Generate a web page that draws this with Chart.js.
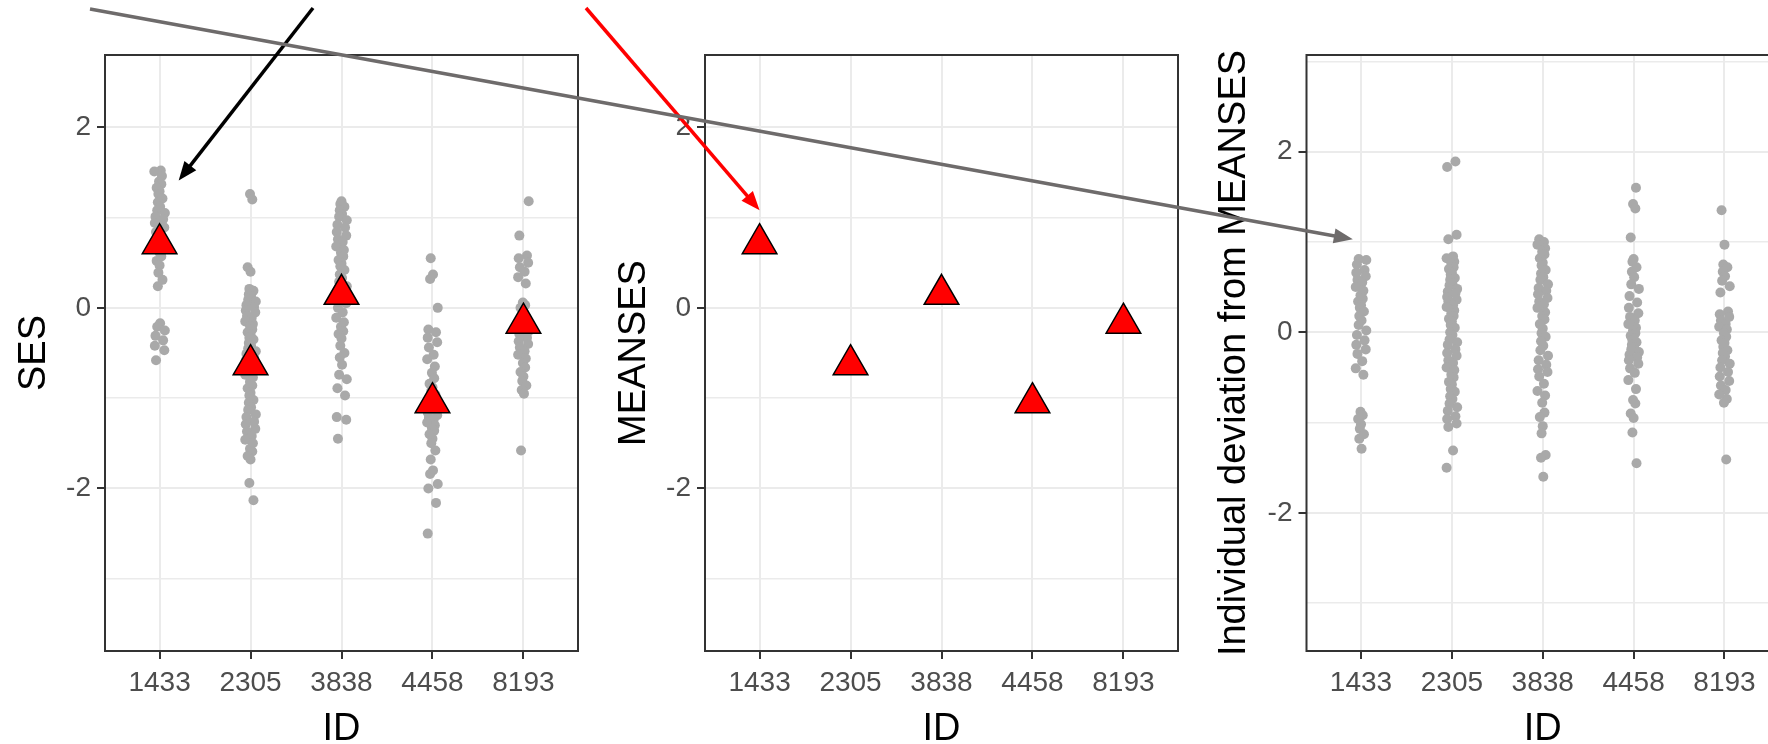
<!DOCTYPE html>
<html>
<head>
<meta charset="utf-8">
<script src="https://cdn.jsdelivr.net/npm/chart.js@4"></script>
<style>
  html, body { margin: 0; padding: 0; background: #fff; overflow: hidden; width: 1768px; height: 744px; }
  .panel { position: absolute; top: 0; width: 600px; height: 744px; }
  #overlay { position: absolute; left: 0; top: 0; pointer-events: none; }
</style>
</head>
<body>
<div class="panel" style="left:0px"><canvas id="c1" width="600" height="744"></canvas></div>
<div class="panel" style="left:600px"><canvas id="c2" width="600" height="744"></canvas></div>
<div class="panel" style="left:1200px"><canvas id="c3" width="600" height="744"></canvas></div>
<canvas id="overlay" width="1768" height="744"></canvas>
<script>
// School IDs (x categories)
const schoolIds = ['1433', '2305', '3838', '4458', '8193'];

// Student SES values per school
const ses1433 = [1.52, 1.51, 1.46, 1.40, 1.37, 1.33, 1.29, 1.26, 1.21, 1.17, 1.12, 1.08, 1.05, 1.01, 0.98, 0.94,
  0.89, 0.84, 0.79, 0.73, 0.68, 0.62, 0.57, 0.52, 0.47, 0.39, 0.31, 0.24, -0.17, -0.21, -0.25, -0.31, -0.36,
  -0.42, -0.47, -0.58];
const ses2305 = [1.26, 1.20, 0.45, 0.40, 0.21, 0.19, 0.15, 0.13, 0.09, 0.07, 0.03, 0.01, -0.03, -0.05, -0.09,
  -0.11, -0.15, -0.18, -0.20, -0.24, -0.27, -0.29, -0.33, -0.35, -0.39, -0.42, -0.45, -0.48, -0.51, -0.55,
  -0.58, -0.63, -0.66, -0.71, -0.74, -0.77, -0.82, -0.86, -0.89, -0.94, -0.97, -1.02, -1.05, -1.10, -1.13,
  -1.18, -1.21, -1.26, -1.29, -1.34, -1.37, -1.42, -1.46, -1.50, -1.56, -1.59, -1.64, -1.68, -1.94, -2.13];
const ses3838 = [1.18, 1.15, 1.12, 1.08, 1.04, 1.01, 0.97, 0.92, 0.89, 0.84, 0.80, 0.76, 0.73, 0.68, 0.64,
  0.61, 0.57, 0.53, 0.49, 0.46, 0.42, 0.37, 0.33, 0.29, 0.24, 0.19, 0.14, 0.10, 0.05, 0.00, -0.05, -0.11,
  -0.16, -0.21, -0.26, -0.29, -0.34, -0.42, -0.50, -0.55, -0.63, -0.74, -0.79, -0.89, -0.97, -1.21, -1.24, -1.45];
const ses4458 = [0.55, 0.37, 0.32, 0.00, -0.24, -0.27, -0.33, -0.38, -0.44, -0.52, -0.57, -0.65, -0.72, -0.78,
  -0.84, -0.88, -0.92, -0.96, -1.00, -1.03, -1.06, -1.09, -1.12, -1.14, -1.16, -1.19, -1.22, -1.24, -1.27,
  -1.30, -1.33, -1.36, -1.40, -1.45, -1.50, -1.58, -1.68, -1.80, -1.84, -1.95, -2.00, -2.16, -2.50];
const ses8193 = [1.18, 0.80, 0.58, 0.55, 0.50, 0.45, 0.40, 0.34, 0.27, 0.06, 0.03, 0.00, -0.04, -0.08, -0.11,
  -0.14, -0.18, -0.22, -0.26, -0.29, -0.33, -0.37, -0.40, -0.44, -0.48, -0.52, -0.56, -0.61, -0.66, -0.71,
  -0.76, -0.81, -0.86, -0.91, -0.95, -1.58];

// School mean SES (MEANSES)
const meanSES = [0.71, -0.63, 0.15, -1.05, -0.17];

// Y tick values (labels on even values, minor grid on odd)
const yTicksLevel = [-3, -2, -1, 0, 1, 2];
const yTicksDeviation = [-3, -2, -1, 0, 1, 2, 3];

const FONT = "'Liberation Sans', Arial, sans-serif";
Chart.defaults.font.family = FONT;

// small horizontal jitter so overlapping students stay visible (in category units)
const jitterPattern = [0.013, -0.045, 0.032, -0.006, 0.052, -0.026, 0.0, -0.058, 0.039, -0.019, 0.019, -0.039, 0.058, -0.013, 0.026, -0.052, 0.006, -0.032];
const jitter = (i, phase) => jitterPattern[(i * 7 + phase) % jitterPattern.length];

const sesGroups = [ses1433, ses2305, ses3838, ses4458, ses8193];
const sesPoints = sesGroups.flatMap((g, s) => g.map((v, i) => ({ x: s + jitter(i, s * 3), y: v })));
const devPoints = sesGroups.flatMap((g, s) => g.map((v, i) => ({ x: s + jitter(i, s * 3 + 5), y: v - meanSES[s] })));
const meanPoints = meanSES.map((v, s) => ({ x: s, y: v }));

const dotDataset = (data) => ({
  data, order: 2, showLine: false,
  pointRadius: 5, pointHoverRadius: 5,
  pointBackgroundColor: '#a9a9a9', pointBorderWidth: 0, pointBorderColor: '#a9a9a9'
});
const meanDataset = () => ({
  data: meanPoints, order: 1, showLine: false,
  pointStyle: 'triangle', pointRadius: 20, pointHoverRadius: 20,
  pointBackgroundColor: '#ff0000', pointBorderColor: '#000000', pointBorderWidth: 1.5
});

const panelBorder = {
  id: 'panelBorder',
  afterDraw(chart) {
    const { ctx, chartArea: a } = chart;
    ctx.save();
    ctx.strokeStyle = '#333333';
    ctx.lineWidth = 2;
    ctx.strokeRect(a.left, a.top, a.right - a.left, a.bottom - a.top);
    ctx.restore();
  }
};

const isMinor = (v) => Math.abs(v % 2) === 1;

function makePanel(canvasId, yTitle, datasets, yMin, yMax, yTicks, axisWidth, rightPad, titlePad) {
  return new Chart(document.getElementById(canvasId), {
    type: 'scatter',
    data: { datasets },
    plugins: [panelBorder],
    options: {
      responsive: false,
      animation: false,
      devicePixelRatio: 1,
      layout: { padding: { left: 0, top: 55, right: rightPad, bottom: 0 } },
      plugins: { legend: { display: false }, tooltip: { enabled: false } },
      scales: {
        x: {
          type: 'linear', min: -0.6, max: 4.6,
          afterBuildTicks: (s) => { s.ticks = schoolIds.map((_, i) => ({ value: i })); },
          afterFit: (s) => { s.height = 93; },
          border: { display: false },
          grid: { color: '#ebebeb', lineWidth: 2, tickColor: '#333333', tickLength: 8, tickWidth: 2 },
          ticks: {
            autoSkip: false, maxRotation: 0, padding: 7, color: '#4d4d4d',
            font: { size: 28, family: FONT },
            callback: (v) => schoolIds[v] ?? ''
          },
          title: { display: true, text: 'ID', color: '#000000', font: { size: 38, family: FONT, lineHeight: 1 }, padding: { top: 0, bottom: -5 } }
        },
        y: {
          type: 'linear', min: yMin, max: yMax,
          afterBuildTicks: (s) => { s.ticks = yTicks.map((v) => ({ value: v })); },
          afterFit: (s) => { s.width = axisWidth; },
          border: { display: false },
          grid: {
            color: '#ebebeb',
            lineWidth: (c) => (c.tick && isMinor(c.tick.value)) ? 1.4 : 2,
            tickColor: (c) => (c.tick && isMinor(c.tick.value)) ? 'rgba(0,0,0,0)' : '#333333',
            tickLength: 8, tickWidth: 2
          },
          ticks: {
            padding: 6, color: '#4d4d4d',
            font: { size: 28, family: FONT },
            callback: (v) => isMinor(v) ? '' : String(v)
          },
          title: { display: true, text: yTitle, color: '#000000', font: { size: 38, family: FONT, lineHeight: 1 }, padding: { top: titlePad, bottom: 0 } }
        }
      }
    }
  });
}

const chartSes = makePanel('c1', 'SES', [meanDataset(), dotDataset(sesPoints)], -3.8, 2.8, yTicksLevel, 105, 22, 16);
const chartMean = makePanel('c2', 'MEANSES', [meanDataset()], -3.8, 2.8, yTicksLevel, 105, 22, 16);
const chartDev = makePanel('c3', 'Individual deviation from MEANSES', [dotDataset(devPoints)], -3.53, 3.07, yTicksDeviation, 106.5, 21, 16);

// Annotation arrows pointing into the panels
function drawArrow(ctx, x0, y0, x1, y1, color) {
  const ang = Math.atan2(y1 - y0, x1 - x0);
  const headLen = 19, headHalf = 7.5;
  const bx = x1 - headLen * Math.cos(ang), by = y1 - headLen * Math.sin(ang);
  ctx.save();
  ctx.strokeStyle = color;
  ctx.fillStyle = color;
  ctx.lineWidth = 3.5;
  ctx.lineCap = 'butt';
  ctx.beginPath();
  ctx.moveTo(x0, y0);
  ctx.lineTo(bx + 2 * Math.cos(ang), by + 2 * Math.sin(ang));
  ctx.stroke();
  ctx.beginPath();
  ctx.moveTo(x1, y1);
  ctx.lineTo(bx + headHalf * Math.sin(ang), by - headHalf * Math.cos(ang));
  ctx.lineTo(bx - headHalf * Math.sin(ang), by + headHalf * Math.cos(ang));
  ctx.closePath();
  ctx.fill();
  ctx.restore();
}

function target(chart, offsetX, xv, yv) {
  return [offsetX + chart.scales.x.getPixelForValue(xv), chart.scales.y.getPixelForValue(yv)];
}

const octx = document.getElementById('overlay').getContext('2d');
const tipSes = target(chartSes, 0, 0.21, 1.41);
const tipMean = target(chartMean, 600, 0.0, 1.08);
const tipDev = target(chartDev, 1200, -0.09, 1.03);
drawArrow(octx, 313, 8, tipSes[0], tipSes[1], '#000000');
drawArrow(octx, 586, 8, tipMean[0], tipMean[1], '#ff0000');
drawArrow(octx, 90, 9, tipDev[0], tipDev[1], '#6e6b6b');
</script>
</body>
</html>
